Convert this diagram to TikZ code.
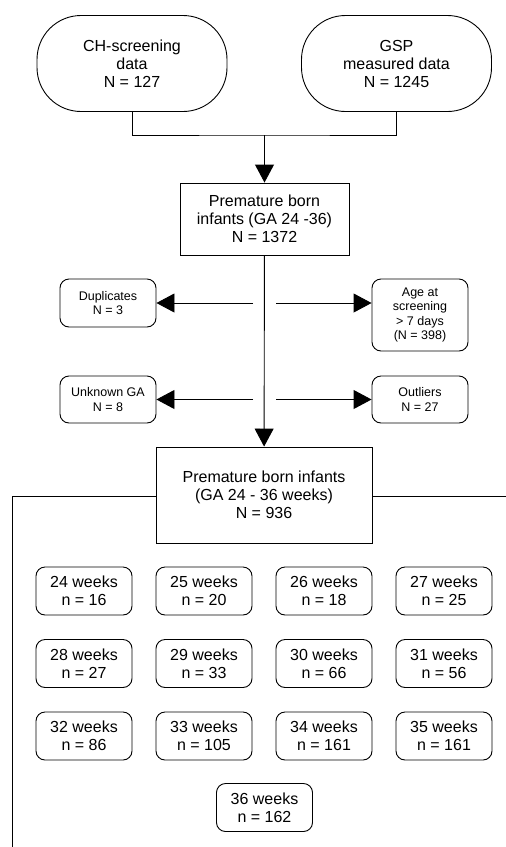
\documentclass[tikz,border=0pt]{standalone}
\usepackage{fontspec}
\setmainfont{Liberation Sans}
\usetikzlibrary{positioning, arrows.meta}

\begin{document}
\begin{tikzpicture}[x=1pt, y=-1pt, line width=0.9pt,
    source/.style={draw, rounded corners=44pt, minimum width=190pt, minimum height=96pt, align=center, font=\fontsize{16}{18}\selectfont},
    bigbox/.style={draw, align=center, font=\fontsize{16}{18}\selectfont},
    excl/.style={draw, rounded corners=9pt, minimum width=96pt, align=center, font=\fontsize{12.5}{14.2}\selectfont},
    week/.style={draw, rounded corners=9pt, minimum width=96pt, minimum height=48pt, align=center, font=\fontsize{16}{18}\selectfont},
    arr/.style={-{Triangle[length=18pt, width=19pt]}}]
            \useasboundingbox (0,0) rectangle (506,847);

            \node[source] (ch) at (132,63.5) {CH-screening\\data\\N = 127};
            \node[source] (gsp) at (396.5,63.5) {GSP\\measured data\\N = 1245};
            \node[bigbox, minimum width=169pt, minimum height=72pt] (pb) at (264.5,219) {Premature born\\infants (GA 24 -36)\\N = 1372};

            \node[excl, minimum height=48pt] (dup) at (108,303) {Duplicates\\N = 3};
            \node[excl, minimum height=72pt] (age) at (420,315) {Age at\\screening\\> 7 days\\(N = 398)};
            \node[excl, minimum height=47pt] (unk) at (108,399.5) {Unknown GA\\N = 8};
            \node[excl, minimum height=47pt] (out) at (420,399.5) {Outliers\\N = 27};

            \node[bigbox, minimum width=216pt, minimum height=96pt] (pbi) at (264,495) {Premature born infants\\(GA 24 - 36 weeks)\\N = 936};

            \node[week] (w24) at (84,591) {24 weeks\\n = 16};
            \node[week] (w25) at (204,591) {25 weeks\\n = 20};
            \node[week] (w26) at (324,591) {26 weeks\\n = 18};
            \node[week] (w27) at (444,591) {27 weeks\\n = 25};
            \node[week] (w28) at (84,663.5) {28 weeks\\n = 27};
            \node[week] (w29) at (204,663.5) {29 weeks\\n = 33};
            \node[week] (w30) at (324,663.5) {30 weeks\\n = 66};
            \node[week] (w31) at (444,663.5) {31 weeks\\n = 56};
            \node[week] (w32) at (84,736) {32 weeks\\n = 86};
            \node[week] (w33) at (204,736) {33 weeks\\n = 105};
            \node[week] (w34) at (324,736) {34 weeks\\n = 161};
            \node[week] (w35) at (444,736) {35 weeks\\n = 161};
            \node[week] (w36) at (264.5,807.5) {36 weeks\\n = 162};

            \coordinate (join) at (264.5,135);
            \coordinate (dupfrom) at (253,303);
            \coordinate (agefrom) at (276,303);
            \coordinate (unkfrom) at (253,399.5);
            \coordinate (outfrom) at (276,399.5);
            \coordinate (leftend) at (12,847);
            \coordinate (rightend) at (506,496);

            % Draw edges
            \draw (ch) |- (join) -| (gsp);
            \draw[arr] (join) -- (pb);
            \draw[arr] (pb) -- (pbi);
            \draw[arr] (dupfrom) -- (dup);
            \draw[arr] (agefrom) -- (agefrom -| age.west);
            \draw[arr] (unkfrom) -- (unk);
            \draw[arr] (outfrom) -- (out);
            \draw (pbi.west |- 0,496) -| (leftend);
            \draw (pbi.east |- 0,496) -- (rightend);
        \end{tikzpicture}
\end{document}
